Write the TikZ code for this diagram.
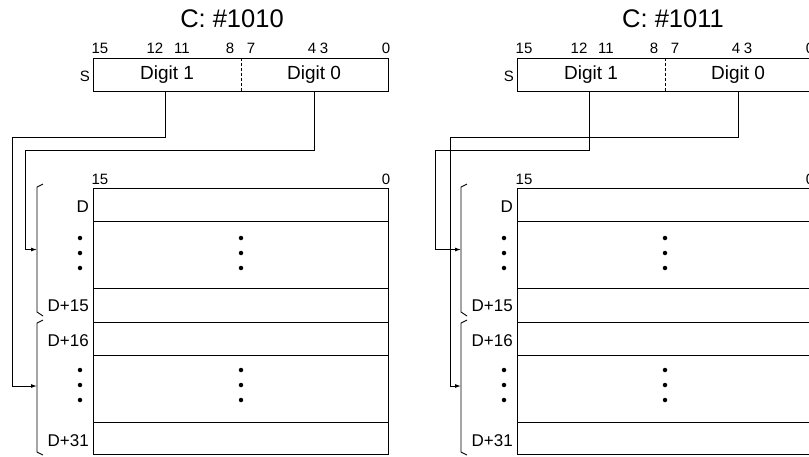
\documentclass[tikz,border=0pt]{standalone}
\usepackage{fontspec}
\setmainfont{Liberation Sans}
\usetikzlibrary{arrows.meta,positioning,calc}

\tikzset{
  title/.style={font=\fontsize{25.5}{25.5}\selectfont, inner sep=0pt},
  bitno/.style={font=\fontsize{15}{15}\selectfont, inner sep=0pt},
  digit/.style={font=\fontsize{19}{19}\selectfont, inner sep=0pt},
  rowlbl/.style={font=\fontsize{17}{17}\selectfont, inner sep=0pt, anchor=east},
  wire/.style={line width=1pt},
  feed/.style={wire, -{Latex[length=6pt,width=4pt]}},
  vdot/.style={fill, circle, inner sep=0pt, minimum size=4.5pt},
  brk/.style={line width=0.9pt},
}

\begin{document}
\begin{tikzpicture}[x=1pt,y=-1pt]
\useasboundingbox (0,0) rectangle (809,456);
\clip (0,0) rectangle (809,456);
% one panel per counter value; ha/va/ba = Digit 1 route, hb/vb/bb = Digit 0 route
\foreach \p/\ox/\tx/\ttl/\ha/\va/\ba/\hb/\vb/\bb in
    {l/0/232/1010/137/12/lo/150/25/up, r/424/249/1011/150/11/up/137/26/lo} {
  \begin{scope}[shift={(\ox,0)}]
    \node[title] (ttl\p) at (\tx,19) {C: \#\ttl};
    % source word
    \draw[wire] (93,58) rectangle (388,91);
    \draw[densely dashed, line width=0.6pt] (241,58) -- (241,91);
    \node[digit] (dga\p) at (167,75) {Digit 1};
    \node[digit] (dgb\p) at (314,75) {Digit 0};
    \node[font=\fontsize{15}{15}\selectfont, inner sep=0pt, anchor=east] (s\p) at (90,76) {S};
    \foreach \b/\x in {15/100, 12/155, 11/182, 8/230, 7/251, 4/312, 3/324, 0/386}
      \node[bitno] at (\x,48) {\b};
    % destination words
    \draw[wire] (93,188) rectangle (388,454);
    \foreach \y in {221, 288, 322, 355, 422}
      \draw[wire] (93,\y) -- (388,\y);
    \node[bitno] at (100,179) {15};
    \node[bitno] at (386,179) {0};
    \node[rowlbl] (da\p) at (89,207) {D};
    \node[rowlbl] (db\p) at (89,306) {D+15};
    \node[rowlbl] (dc\p) at (89,341) {D+16};
    \node[rowlbl] (dd\p) at (89,441) {D+31};
    \foreach \y in {238, 253, 268, 370, 385, 400} {
      \node[vdot] at (80,\y) {};
      \node[vdot] at (241,\y) {};
    }
    % brackets
    \draw[brk] (43,184) -- (37,187) -- (37,312) -- (43,316);
    \draw[brk] (43,320) -- (37,323) -- (37,452) -- (43,455);
    \coordinate (up\p) at (37,249.5);
    \coordinate (lo\p) at (37,386);
    % routes
    \draw[feed] ([xshift=-1.5pt]dga\p.center |- 0,91) |- (\va,\ha) |- (\ba\p);
    \draw[feed] (dgb\p.center |- 0,91) |- (\vb,\hb) |- (\bb\p);
  \end{scope}
}
\end{tikzpicture}
\end{document}
